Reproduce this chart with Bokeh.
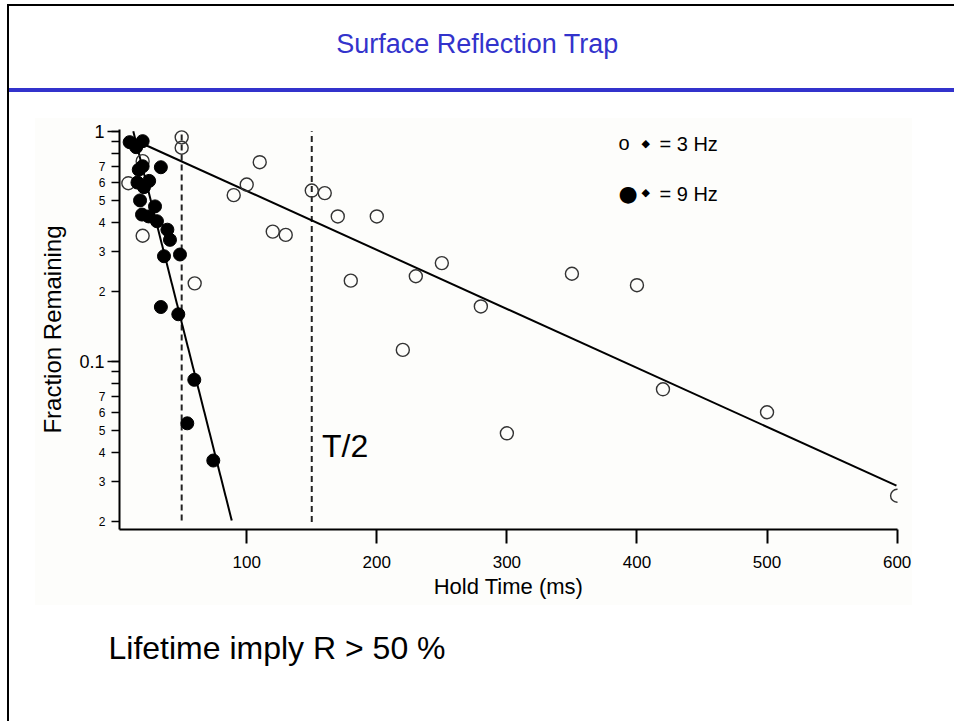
from bokeh.plotting import figure
from bokeh.models import FixedTicker, Label, Range1d, Title
from bokeh.embed import file_html
from bokeh.resources import INLINE

# ---------------- data ----------------
# 3 Hz (open circles): hold time (ms) and fraction remaining
hz3_time = [9, 20, 20, 50, 50, 60, 90, 100, 110, 120, 130, 150, 160, 170, 180,
            200, 220, 230, 250, 280, 300, 350, 400, 420, 500, 600]
hz3_frac = [0.594, 0.741, 0.351, 0.94, 0.847, 0.218, 0.527, 0.586, 0.733, 0.366,
            0.354, 0.552, 0.538, 0.426, 0.224, 0.426, 0.112, 0.234, 0.267, 0.173,
            0.0486, 0.240, 0.214, 0.0755, 0.060, 0.026]

# 9 Hz (filled circles)
hz9_time = [10, 20, 15, 20, 17, 34, 16, 25, 21, 18, 29.5, 19.5, 24.6, 31, 39,
            41, 36.4, 48.7, 34, 47.4, 59.7, 54.3, 74.3]
hz9_frac = [0.896, 0.905, 0.852, 0.704, 0.680, 0.697, 0.598, 0.608, 0.571, 0.500,
            0.471, 0.434, 0.426, 0.406, 0.373, 0.337, 0.286, 0.291, 0.172, 0.160,
            0.083, 0.0537, 0.0370]

# exponential fit lines (end points)
fit3_time = [20, 599.5]
fit3_frac = [0.882, 0.0288]
fit9_time = [12.8, 88.5]
fit9_frac = [1.0, 0.0203]

# dashed markers (T/2)
dash_time = [50, 150]
dash_top = [1.0, 1.0]
dash_bottom = [0.0203, 0.0200]

x_ticks = [100, 200, 300, 400, 500, 600]
y_minor_ticks = [0.02, 0.03, 0.04, 0.05, 0.06, 0.07, 0.08, 0.09,
                 0.2, 0.3, 0.4, 0.5, 0.6, 0.7, 0.8, 0.9]
y_minor_labels = ["2", "3", "4", "5", "6", "7", "", "",
                  "2", "3", "4", "5", "6", "7", "", ""]
y_decades = [0.1, 1.0]
y_decade_labels = ["0.1", "1"]

FONT = "Liberation Sans"
BLUE = "#3333cc"

X0, X1 = 2.2, 600.3
Y0, Y1 = 0.01855, 1.017

p = figure(width=954, height=721, y_axis_type="log",
           x_range=Range1d(X0, X1), y_range=Range1d(Y0, Y1),
           output_backend="svg", toolbar_location=None,
           min_border_left=119, min_border_right=57,
           min_border_top=129, min_border_bottom=192)
p.grid.visible = False
p.outline_line_color = None
p.background_fill_color = None
p.background_fill_alpha = 0
p.border_fill_color = None
p.border_fill_alpha = 0
p.title.visible = False
# slide frame (left/top border), blue rule under the title, faint chart panel
p.styles = {
    "background-color": "white",
    "background-image": "linear-gradient(#000,#000), linear-gradient(#000,#000), "
                        "linear-gradient(%s,%s), linear-gradient(#fdfdfb,#fdfdfb)"
                        % (BLUE, BLUE),
    "background-size": "2px 717px, 947px 2px, 946px 4px, 877px 487px",
    "background-position": "7px 4px, 7px 4px, 8px 88px, 35px 118px",
    "background-repeat": "no-repeat",
}

# x axis
xa = p.xaxis[0]
xa.ticker = FixedTicker(ticks=x_ticks, minor_ticks=[])
xa.axis_line_width = 2
xa.axis_line_color = "black"
xa.major_tick_line_width = 2
xa.major_tick_out = 14
xa.major_tick_in = 0
xa.minor_tick_line_color = None
xa.major_label_text_font = FONT
xa.major_label_text_font_size = "17px"
xa.major_label_text_color = "black"
xa.major_label_standoff = 12
xa.axis_label = "Hold Time (ms)"
xa.axis_label_text_font = FONT
xa.axis_label_text_font_size = "22px"
xa.axis_label_text_font_style = "normal"
xa.axis_label_text_color = "black"
xa.axis_label_standoff = 3

# y axis
ya = p.yaxis[0]
ya.ticker = FixedTicker(ticks=y_minor_ticks + y_decades, minor_ticks=y_decades)
ya.major_label_overrides = {**{t: l for t, l in zip(y_minor_ticks, y_minor_labels)},
                            **{t: "" for t in y_decades}}
ya.axis_line_width = 2
ya.axis_line_color = "black"
ya.major_tick_line_width = 1.5
ya.minor_tick_line_width = 1.5
ya.minor_tick_line_color = "black"
ya.major_tick_out = 8
ya.major_tick_in = 0
ya.minor_tick_out = 12
ya.minor_tick_in = 0
ya.major_label_text_font = FONT
ya.major_label_text_font_size = "12px"
ya.major_label_text_color = "black"
ya.major_label_standoff = 2
ya.axis_label = "Fraction Remaining"
ya.axis_label_text_font = FONT
ya.axis_label_text_font_size = "24px"
ya.axis_label_text_font_style = "normal"
ya.axis_label_text_color = "black"
ya.axis_label_standoff = 30

# decade labels (larger than the in-between digits), placed in the left panel
for val, lab in zip(y_decades, y_decade_labels):
    p.add_layout(Label(x=X0, y=val, text=lab, x_offset=-15, text_align="right",
                       text_baseline="middle", text_font=FONT,
                       text_font_size="18px", text_color="black"), "left")

# dashed lines
p.segment(x0=dash_time, y0=dash_bottom, x1=dash_time, y1=dash_top,
          line_color="#222222", line_width=2, line_dash="6 4")

# fit lines
p.line(fit3_time, fit3_frac, line_color="black", line_width=2)
p.line(fit9_time, fit9_frac, line_color="black", line_width=2)

# data
p.scatter(hz3_time, hz3_frac, marker="circle", size=13, fill_color=None,
          line_color="#333333", line_width=1.4)
p.scatter(hz9_time, hz9_frac, marker="circle", size=13, fill_color="black",
          line_color="black")

# T/2 annotation
p.add_layout(Label(x=157.9, y=0.043, text="T/2", text_font=FONT,
                   text_font_size="32px", text_baseline="middle",
                   text_color="black"))

# legend (text)
def canvas_label(x, y, text, size, font=FONT, color="black", align="left",
                 place="center"):
    lab = Label(x=x, y=y, x_units="canvas", y_units="canvas", text=text,
                text_font=font, text_font_size=size, text_color=color,
                text_align=align, text_baseline="middle")
    if place == "center":
        p.add_layout(lab)
    else:
        p.add_layout(lab, place)

canvas_label(618, 142, "o", "20px")
canvas_label(641, 143, "\u25c6", "11px", font="DejaVu Sans")
canvas_label(659, 143, "= 3 Hz", "20px")
canvas_label(618, 193, "\u25cf", "22px", font="DejaVu Sans")
canvas_label(641, 192, "\u25c6", "11px", font="DejaVu Sans")
canvas_label(659, 193, "= 9 Hz", "20px")

# slide title
canvas_label(477, 43, "Surface Reflection Trap", "27px", color=BLUE,
             align="center", place="above")

# conclusion line under the chart
p.add_layout(Title(text="Lifetime imply R > 50 %", align="left", offset=-11,
                   text_font=FONT, text_font_size="32px", text_font_style="normal",
                   text_color="black", standoff=53), "below")

open("out.html", "w").write(file_html(p, INLINE))
